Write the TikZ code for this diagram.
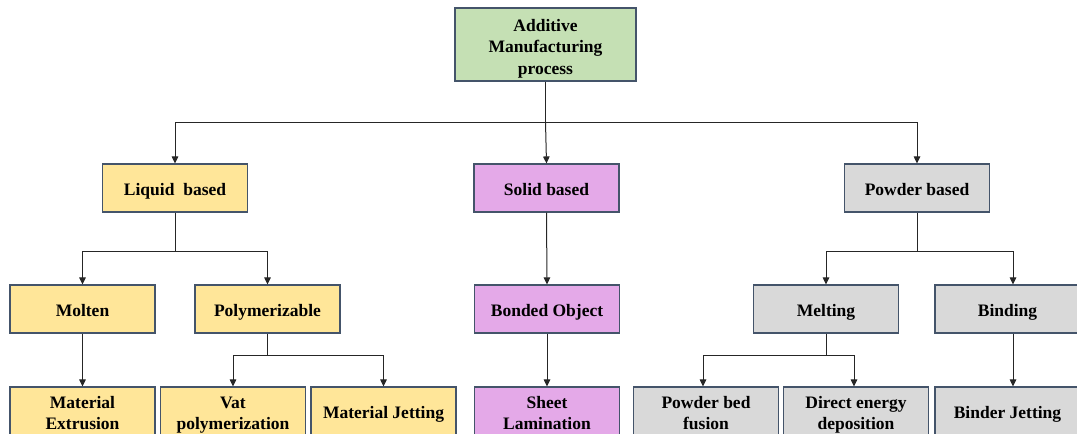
\documentclass[tikz,border=0pt]{standalone}
\usepackage{fontspec}
\setmainfont{Liberation Serif}[BoldFont={Liberation Serif Bold}]
\usetikzlibrary{arrows.meta}
\definecolor{cgreen}{HTML}{C5E0B4}
\definecolor{cyellow}{HTML}{FFE699}
\definecolor{cpink}{HTML}{E4A9E8}
\definecolor{cgray}{HTML}{D9D9D9}
\definecolor{cborder}{HTML}{44546A}
\definecolor{cline}{HTML}{262626}
\tikzset{
  box/.style={draw=cborder, line width=1.1pt, minimum width=145pt, minimum height=48pt,
    inner sep=0pt, align=center, font=\fontsize{17.5}{21.5}\selectfont\bfseries,
    execute at begin node={\rule{0pt}{#1}},
    execute at end node={\rule[-5pt]{0pt}{0pt}}},
  box/.default=20.6pt,
  yb/.style={box=#1, fill=cyellow}, yb/.default=20.6pt,
  pb/.style={box=#1, fill=cpink}, pb/.default=20.6pt,
  gb/.style={box=#1, fill=cgray}, gb/.default=20.6pt,
  conn/.style={draw=cline, line width=1pt},
  arr/.style={conn, -{Triangle[length=7pt,width=6.5pt]}}
}
\begin{document}
\begin{tikzpicture}[x=1pt,y=-1pt]
\useasboundingbox (0,0) rectangle (1077,434);
\clip (0,0) rectangle (1077,434);
% nodes
\node[box=64pt, fill=cgreen, minimum width=181pt, minimum height=73pt] (top) at (545.5,44.5) {Additive\\Manufacturing\\process};
\node[yb] (liquid) at (175,188) {Liquid\ \ based};
\node[pb] (solid) at (546.5,188) {Solid based};
\node[gb] (powder) at (917,188) {Powder based};
\node[yb] (molten) at (82.5,309) {Molten};
\node[yb] (poly) at (267.5,309) {Polymerizable};
\node[pb] (bonded) at (547,309) {Bonded Object};
\node[gb] (melting) at (826,309) {Melting};
\node[gb] (binding) at (1007.5,309) {Binding};
\node[yb=42.1pt] (extr) at (82.5,411) {Material\\Extrusion};
\node[yb=42.1pt] (vat) at (233,411) {Vat\\polymerization};
\node[yb] (jet) at (383.5,411) {Material Jetting};
\node[pb=42.1pt] (sheet) at (547,411) {Sheet\\Lamination};
\node[gb=42.1pt] (pbf) at (706,411) {Powder bed\\fusion};
\node[gb=42.1pt] (ded) at (856,411) {Direct energy\\deposition};
\node[gb] (bj) at (1007.5,411) {Binder Jetting};
% junctions
\coordinate (j0) at (545.5,122);
\coordinate (jl) at (175,251);
\coordinate (jp) at (917,251);
\coordinate (jpoly) at (267.5,355);
\coordinate (jmelt) at (826,355);
% connectors
\draw[conn] (top.south) -- (j0);
\draw[arr] (j0) -| (liquid.north);
\draw[arr] (j0) -| (powder.north);
\draw[arr] (j0) -- (solid.north);
\draw[conn] (liquid.south) -- (jl);
\draw[arr] (jl) -| (molten.north);
\draw[arr] (jl) -| (poly.north);
\draw[arr] (solid.south) -- (bonded.north);
\draw[conn] (powder.south) -- (jp);
\draw[arr] (jp) -| (melting.north);
\draw[arr] (jp) -| ([xshift=5.5pt]binding.north);
\draw[arr] (molten.south) -- (extr.north);
\draw[conn] (poly.south) -- (jpoly);
\draw[arr] (jpoly) -| (vat.north);
\draw[arr] (jpoly) -| (jet.north);
\draw[arr] (bonded.south) -- (sheet.north);
\draw[conn] (melting.south) -- (jmelt);
\draw[arr] (jmelt) -| ([xshift=-3pt]pbf.north);
\draw[arr] (jmelt) -| ([xshift=-2pt]ded.north);
\draw[arr] ([xshift=5.5pt]binding.south) -- ([xshift=5.5pt]bj.north);
\end{tikzpicture}
\end{document}
